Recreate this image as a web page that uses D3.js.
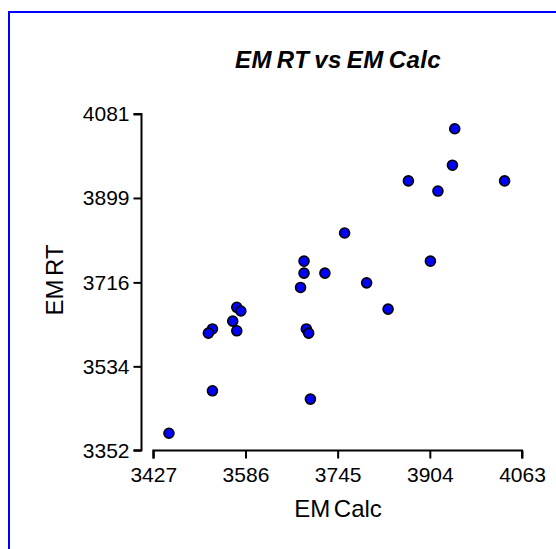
<!DOCTYPE html>
<html>
<head>
<meta charset="utf-8">
<script src="https://cdn.jsdelivr.net/npm/d3@7"></script>
<style>
  body { margin:0; background:#fff; }
  text { font-family: Arial, "Liberation Sans", sans-serif; fill:#000; }
</style>
</head>
<body>
<div id="chart"></div>
<script>
// EM Calc (x) vs EM RT (y)
var em_calc = [3454, 3529, 3529, 3522, 3571, 3578, 3564, 3571,
               3687, 3687, 3681, 3723, 3757, 3691, 3695, 3698,
               3795, 3832, 3947, 3943, 3867, 3918, 4033, 3905];
var em_rt   = [3389, 3481, 3615, 3606, 3662, 3654, 3632, 3611,
               3762, 3736, 3705, 3736, 3823, 3615, 3606, 3463,
               3715, 3658, 4049, 3970, 3936, 3914, 3936, 3762];
var x_ticks = [3427, 3586, 3745, 3904, 4063];
var y_ticks = [3352, 3534, 3716, 3899, 4081];

var W = 556, H = 549;
var svg = d3.select("#chart").append("svg")
    .attr("width", W).attr("height", H);

// blue frame, runs off right/bottom
svg.append("rect")
    .attr("x", 9).attr("y", 12)
    .attr("width", 600).attr("height", 600)
    .attr("fill", "none").attr("stroke", "#0000ff").attr("stroke-width", 2);

var xscale = d3.scaleLinear().domain([3427, 4063]).range([153.3, 522]);
var yscale = d3.scaleLinear().domain([3352, 4081]).range([450.3, 114]);

// y axis
var yAxis = d3.axisLeft(yscale).tickValues(y_ticks).tickSize(8).tickPadding(4)
    .tickFormat(d3.format("d"));
var gy = svg.append("g").attr("transform", "translate(141.5,0)").call(yAxis);
gy.select(".domain").attr("d", "M-8," + yscale(4081) + "H0V" + yscale(3352) + "H-8");

// x axis
var xAxis = d3.axisBottom(xscale).tickValues(x_ticks).tickSize(8).tickPadding(9)
    .tickFormat(d3.format("d"));
var gx = svg.append("g").attr("transform", "translate(0,450.5)").call(xAxis);
gx.select(".domain").attr("d", "M" + xscale(3427) + ",8V0H" + xscale(4063) + "V8");

[gx, gy].forEach(function(g) {
    g.selectAll("path, line").attr("stroke", "#000").attr("stroke-width", 2);
    g.selectAll("text").style("font-size", "21px")
        .style("font-family", "Arial, 'Liberation Sans', sans-serif").attr("fill", "#000");
});

// points
var pts = d3.range(em_calc.length).map(function(i) { return [em_calc[i], em_rt[i]]; });
svg.append("g").selectAll("circle")
    .data(pts).enter()
    .append("circle")
    .attr("cx", function(d) { return xscale(d[0]); })
    .attr("cy", function(d) { return yscale(d[1]); })
    .attr("r", 5)
    .attr("fill", "#0000ff")
    .attr("stroke", "#000")
    .attr("stroke-width", 1.6);

// title and axis labels
svg.append("text")
    .attr("x", 338).attr("y", 68)
    .attr("text-anchor", "middle")
    .style("font-size", "24px").style("font-weight", "bold").style("font-style", "italic")
    .style("word-spacing", "-2px").style("letter-spacing", "0.4px")
    .text("EM RT vs EM Calc");

svg.append("text")
    .attr("x", 338).attr("y", 517)
    .attr("text-anchor", "middle")
    .style("font-size", "24px").style("word-spacing", "-3px")
    .text("EM Calc");

svg.append("text")
    .attr("transform", "translate(63,280) rotate(-90)")
    .attr("text-anchor", "middle")
    .style("font-size", "24px").style("word-spacing", "-3px")
    .text("EM RT");
</script>
</body>
</html>
